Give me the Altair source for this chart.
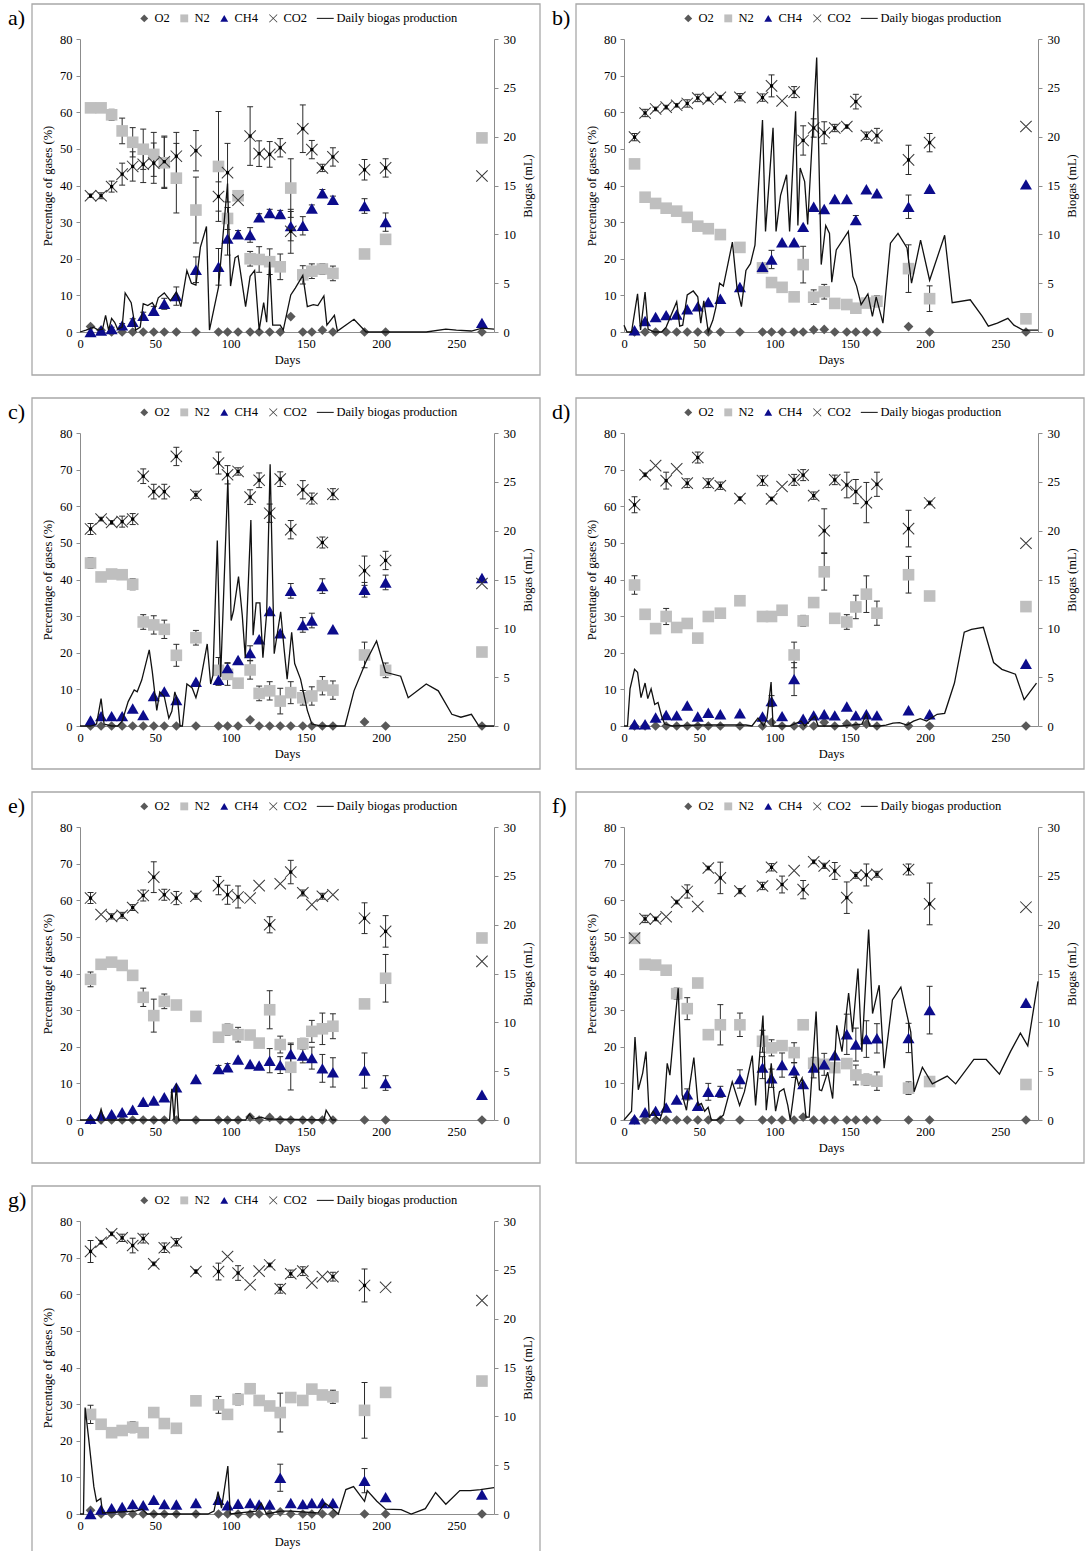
import altair as alt
import pandas as pd

# ---------------- data ----------------
DAYS = [7, 14, 21, 28, 35, 42, 49, 56, 64, 77, 92, 98, 105, 113, 119, 126, 133, 140, 148, 154, 161, 168, 189, 203, 267]
SERIES = ["O2", "N2", "CH4", "CO2", "Daily biogas production"]
PANEL_TAGS = ["a)", "b)", "c)", "d)", "e)", "f)", "g)"]
X_TICKS = [0, 50, 100, 150, 200, 250]
L_TICKS = [0, 10, 20, 30, 40, 50, 60, 70, 80]
R_TICKS = [0, 5, 10, 15, 20, 25, 30]

# panel a
A_O2 = [1.5, 0.5, 0, 0, 0, 0, 0, 0, 0, 0, 0, 0, 0, 0, 0, 0, 0, 4.2, 0, 0, 0.5, 0, 0, 0, 0]
A_N2 = [61.2, 61.2, 59.3, 54.9, 51.8, 49.9, 48.5, 46.2, 42.0, 33.3, 45.2, 31.0, 37.2, 20.0, 19.8, 19.2, 17.8, 39.3, 15.6, 16.6, 17.2, 16.0, 21.3, 25.3, 53.0]
A_N2_ERR = [0, 0, 1.5, 3.5, 4, 5.5, 6, 7, 9.5, 9, 15, 3, 1, 2, 3.5, 3.5, 3.5, 8, 2.5, 2, 1.5, 2, 0, 0, 0]
A_CH4 = [0.0, 0.4, 0.8, 1.8, 2.8, 4.4, 5.8, 7.7, 9.8, 17.0, 17.8, 25.5, 26.7, 26.5, 31.3, 32.5, 32.2, 28.9, 29.0, 33.7, 37.9, 36.1, 34.4, 30.0, 2.5]
A_CH4_ERR = [0, 0.3, 0.5, 0.5, 0.8, 1, 1.2, 1.5, 2.5, 3.5, 5, 4.5, 1, 2, 1, 1, 1, 4, 2.5, 1, 1, 1, 2, 2.5, 0]
A_CO2 = [37.2, 37.2, 39.7, 43.1, 45.2, 45.8, 46.1, 46.5, 48.0, 49.5, 37.0, 43.5, 36.0, 53.5, 48.7, 48.5, 50.3, 27.5, 55.5, 49.8, 44.8, 47.8, 44.3, 44.8, 42.6]
A_CO2_ERR = [0.5, 0.8, 1.5, 3, 4, 5, 5.5, 7, 6.5, 5.5, 4, 8, 0, 8, 3.5, 3.5, 2.5, 6, 6.5, 2.5, 1, 2.5, 2.8, 2.5, 0]
A_BIO_DAY = [0, 4, 9, 12, 15, 17, 19, 21, 23, 25, 28, 30, 34, 37, 40, 42, 45, 48, 50, 52, 56, 60, 64, 67, 71, 74, 77, 80, 84, 86, 92, 98, 100, 103, 105, 110, 113, 116, 119, 122, 124, 126, 128, 133, 135, 140, 143, 148, 151, 155, 158, 162, 164, 169, 171, 182, 190, 230, 243, 250, 260, 267, 275]
A_BIO_ML = [0, 0.2, 0.5, 0.2, 0.3, 1.7, 0.2, 1.4, 1.0, 0.3, 0.5, 4.0, 3.0, 0.2, 0.5, 2.9, 2.7, 3.0, 2.5, 3.5, 4.0, 3.2, 4.1, 2.6, 6.3, 5.0, 4.8, 8.7, 10.8, 0.2, 4.6, 15.2, 4.7, 7.6, 7.8, 2.6, 5.7, 6.3, 0.2, 3.0, 1.0, 7.2, 0.7, 0.7, 0.2, 3.8, 4.5, 5.8, 2.6, 2.8, 2.7, 3.7, 0.7, 1.7, 0.1, 1.3, 0, 0, 0.3, 0.2, 0.1, 0.4, 0.3]

# panel b
B_O2 = [0, 0, 0, 0, 0, 0, 0, 0, 0, 0, 0, 0, 0, 0, 0, 0.6, 0.7, 0, 0, 0, 0, 0, 1.5, 0, 0]
B_N2 = [45.9, 36.8, 35.1, 33.8, 33.0, 31.3, 28.9, 28.2, 26.6, 23.1, 17.5, 13.5, 12.2, 9.6, 18.4, 9.5, 11.0, 7.8, 7.5, 6.5, 7.9, 8.4, 17.3, 9.1, 3.6]
B_N2_ERR = [0, 0, 0, 0, 0, 0, 0, 0, 0, 0, 0, 0, 0, 0, 5, 2, 2, 0, 0, 0, 0, 1.5, 6.5, 3.5, 0]
B_CH4 = [0.5, 3.0, 4.1, 4.6, 4.8, 6.2, 7.0, 8.2, 9.1, 12.3, 17.8, 19.8, 24.5, 24.5, 28.7, 34.2, 33.6, 36.3, 36.3, 30.6, 39.0, 37.9, 34.2, 39.1, 40.3]
B_CH4_ERR = [0, 0, 0, 0, 0, 0, 0, 0, 0, 0, 1, 2.5, 0, 0, 0, 0, 0, 0, 0, 1.2, 0, 0, 3.2, 0, 0]
B_CO2 = [53.2, 59.8, 60.9, 61.4, 61.9, 62.4, 63.9, 63.6, 64.1, 64.1, 64.0, 67.2, 63.1, 65.5, 52.3, 55.7, 54.4, 55.7, 56.1, 62.9, 53.6, 53.6, 47.0, 51.7, 56.1]
B_CO2_ERR = [1, 1, 0.5, 0.5, 0.5, 1, 1, 0.5, 0.5, 1, 1, 3, 0, 1.5, 4, 2.5, 3, 1, 0.5, 2, 1, 2, 4, 2.5, 0]
B_BIO_DAY = [0, 2, 5, 9, 11, 14, 16, 20, 25, 28, 35, 37, 39, 42, 46, 49, 51, 53, 56, 59, 61, 63.5, 66, 72, 75, 78, 81, 84, 87, 92, 94, 99, 101, 104, 108, 110, 114, 115.5, 117, 120, 122, 128, 131, 134, 136.5, 138, 141, 149, 152, 154.5, 157.5, 162, 165, 167.5, 172, 177, 182, 188, 191, 197, 203, 213, 218, 230, 238, 242, 248, 255, 259, 265, 272, 275]
B_BIO_ML = [0.7, 0, 0, 3.9, 0.2, 4.1, 0.3, 0, 0, 0.5, 3.1, 0.6, 0.7, 3.8, 4.2, 3.6, 0.9, 3.2, 0, 1.2, 2.5, 5.0, 4.7, 9.2, 4.6, 2.6, 6.3, 7.0, 8.9, 21.7, 10.3, 20.9, 10.3, 14.0, 16.1, 10.3, 22.6, 10.9, 16.8, 15.4, 11.0, 28.1, 6.9, 10.9, 10.1, 5.1, 8.4, 10.3, 5.7, 4.7, 2.8, 3.9, 1.6, 3.6, 0.9, 9.1, 10.1, 8.6, 5.0, 9.4, 5.3, 9.9, 3.0, 3.3, 1.6, 0.6, 0.9, 1.4, 0.7, 0.2, 0.2, 0.2]

# panel c
C_O2 = [0, 0, 0, 0, 0, 0, 0, 0, 0, 0, 0, 0, 0, 1.7, 0, 0, 0, 0, 0, 0, 0, 0, 1.1, 0, 0]
C_N2 = [44.5, 40.7, 41.5, 41.3, 38.7, 28.4, 27.6, 26.4, 19.3, 24.1, 15.2, 14.1, 11.7, 15.3, 8.9, 9.6, 6.8, 9.1, 7.7, 8.2, 11.0, 9.8, 19.4, 15.2, 20.2]
C_N2_ERR = [1.5, 1, 1, 1, 1.5, 2, 2.5, 2.5, 3, 2, 3.5, 3, 0, 2.5, 2, 2.5, 3.5, 3, 2, 2.5, 2.5, 2.5, 3.5, 2, 0]
C_CH4 = [1.5, 2.7, 2.7, 2.7, 4.8, 3.0, 8.2, 9.4, 7.1, 12.1, 12.6, 15.8, 18.0, 19.9, 23.7, 31.4, 25.3, 36.9, 27.6, 28.8, 38.2, 26.4, 37.2, 39.2, 40.4]
C_CH4_ERR = [0, 0, 0, 0, 0, 0, 0, 0, 0, 0, 1.5, 1.5, 0, 2, 0, 0, 0, 2, 2, 2, 2, 0, 2, 2, 0]
C_CO2 = [53.8, 56.5, 55.6, 55.8, 56.5, 68.2, 64.0, 64.0, 73.6, 63.1, 71.8, 68.6, 69.5, 62.5, 67.1, 58.1, 67.4, 53.6, 64.5, 62.1, 50.1, 63.3, 42.4, 45.2, 38.9]
C_CO2_ERR = [1.5, 0.5, 0.5, 1.5, 1.5, 2, 2, 2, 2.5, 1, 3, 2.5, 1, 2, 2, 2.5, 2, 2.5, 2.5, 1.5, 1.5, 1.5, 4, 2.5, 0]
C_BIO_DAY = [0, 7, 11, 14, 16, 21, 25, 28, 32, 36, 38, 41, 46, 48, 51, 53, 56, 59, 61, 63, 65, 66.5, 68, 71, 74.5, 77, 80, 84.5, 86.8, 88.3, 91.2, 93.4, 98.2, 100.4, 102, 105.3, 107.8, 109.8, 113.5, 115, 117, 119.5, 121.5, 124, 126.3, 129, 133.3, 135.5, 137.6, 140.6, 142.6, 146.5, 151, 154, 160, 176, 182, 190, 197, 203, 213, 218, 230, 238, 247, 253, 260, 265, 275]
C_BIO_ML = [0, 0, 0.2, 2.8, 0.2, 0, 0, 0.5, 2.5, 3.7, 3.5, 4.7, 7.8, 5.6, 1.6, 3.5, 3.0, 0.8, 1.5, 3.5, 2.4, 0, 0, 4.3, 3.9, 2.9, 4.6, 8.4, 4.3, 5.2, 19.0, 5.0, 25.2, 10.8, 11.8, 15.3, 11.3, 7.0, 21.1, 9.3, 12.6, 12.6, 7.0, 11.6, 26.8, 7.4, 11.7, 8.0, 4.8, 9.6, 6.4, 4.8, 1.6, 0.2, 0, 0, 3.6, 6.6, 8.7, 5.5, 5.1, 2.9, 4.3, 3.6, 1.2, 0.9, 1.2, 0, 0]

# panel d
D_O2 = [0, 0, 0, 0, 0, 0, 0, 0, 0, 0, 0, 1.0, 0, 0, 0, 0, 1.0, 0, 0.6, 0, 0.5, 0, 0, 0, 0]
D_N2 = [38.5, 30.5, 26.6, 29.9, 26.9, 28.0, 24.0, 29.9, 30.8, 34.2, 29.9, 29.9, 31.6, 19.4, 28.7, 33.7, 42.1, 29.4, 28.4, 32.5, 36.0, 30.8, 41.3, 35.5, 32.6]
D_N2_ERR = [2.5, 0, 0, 2.2, 0, 0, 0, 0, 0, 0, 0, 1, 0, 3.5, 1.5, 0, 5, 0, 2, 3.2, 5, 3.3, 5, 0, 0]
D_CH4 = [0.5, 0.5, 2.3, 3.0, 2.9, 5.6, 2.6, 3.6, 3.2, 3.5, 2.6, 6.8, 2.7, 12.8, 2.0, 2.9, 3.2, 2.9, 5.3, 2.9, 3.2, 2.9, 4.3, 3.2, 17.0]
D_CH4_ERR = [0, 0, 0, 0, 0, 0, 0, 0, 0, 0, 0, 1.5, 0, 4.5, 0, 0, 0, 0, 0, 0, 0, 0, 0, 0, 0]
D_CO2 = [60.4, 68.6, 71.1, 67.0, 70.2, 66.3, 73.3, 66.3, 65.6, 62.1, 67.0, 62.0, 65.4, 67.2, 68.5, 62.9, 53.3, 67.2, 65.8, 64.0, 61.0, 66.0, 53.9, 60.9, 49.9]
D_CO2_ERR = [2.2, 0.5, 0, 2.3, 0, 1.2, 1.5, 1.2, 1, 0.5, 1.3, 0.5, 0, 1.5, 1.5, 1, 6, 1.3, 3.5, 3.3, 5.5, 3.3, 5, 0.5, 0]
D_BIO_DAY = [0, 2.3, 4, 7, 9, 11.3, 14, 15.8, 18, 20.4, 22.6, 25, 27, 32, 50, 70, 81, 85, 89, 92.8, 95, 97.7, 99, 110, 117.6, 120, 126.7, 129, 144, 158, 161, 163.3, 170, 174, 178.7, 183, 188, 192.3, 196.8, 201, 208, 213, 219.5, 226, 230.8, 238.7, 245.5, 251, 260, 265.8, 274]
D_BIO_ML = [0, 0, 3.8, 5.8, 5.5, 2.9, 4.4, 2.8, 3.8, 2.2, 2.4, 1.0, 0.2, 0, 0.1, 0.1, 0.1, 0, 0.8, 0, 0.8, 4.5, 0, 0, 0.5, 0, 1.0, 0, 0, 0.2, 1.2, 0, 0, 0.1, 0.3, 0.35, 0.1, 0.5, 0.75, 0.5, 1.2, 1.3, 4.4, 9.6, 9.9, 10.1, 6.5, 5.8, 5.3, 2.7, 4.4]

# panel e
E_O2 = [0, 0, 0, 0, 0, 0, 0, 0, 0, 0, 0, 0, 0, 0.8, 0, 0.7, 0, 0, 0, 0, 0, 0, 0, 0, 0]
E_N2 = [38.4, 42.5, 43.1, 42.2, 39.5, 33.5, 28.5, 32.4, 31.4, 28.3, 22.6, 24.7, 23.3, 23.2, 21.0, 30.1, 20.6, 14.4, 20.8, 24.2, 24.9, 25.6, 31.7, 38.7, 49.7]
E_N2_ERR = [2, 0, 0, 1, 0, 2.5, 4.5, 2, 1.2, 0, 0, 1.5, 2, 0, 0, 5.2, 2.3, 6.2, 1.5, 3, 4.3, 3.4, 0, 6.5, 0]
E_CH4 = [0.3, 1.2, 1.6, 2.1, 2.8, 5.0, 5.3, 6.2, 8.9, 11.2, 13.9, 14.4, 16.5, 15.3, 14.9, 16.2, 15.0, 18.0, 17.6, 16.9, 14.1, 13.0, 13.5, 10.1, 6.9]
E_CH4_ERR = [0, 0, 0, 0, 0, 0, 0, 0, 0, 0, 1, 1, 0, 0, 0, 3.3, 2.3, 3, 2, 3, 3.8, 4, 4.8, 2, 0]
E_CO2 = [60.6, 56.1, 55.6, 55.9, 58.0, 61.3, 66.3, 61.5, 60.6, 61.1, 64.0, 61.5, 60.9, 60.6, 64.0, 53.3, 64.5, 67.7, 62.0, 58.8, 61.1, 61.5, 55.1, 51.5, 43.3]
E_CO2_ERR = [1.5, 0, 0.7, 0.8, 0.8, 1.5, 4.2, 1.5, 1.8, 0.8, 2.5, 2.6, 3, 0, 0, 2.2, 0, 3.2, 0.8, 0, 0.8, 0, 4.2, 4.3, 0]
E_BIO_DAY = [0, 12, 14, 16, 59.5, 61, 62.5, 64, 65.5, 110, 112.5, 115, 120.5, 124, 162, 163.5, 167.5, 170]
E_BIO_ML = [0, 0, 1.1, 0, 0, 3.2, 0, 3.7, 0, 0, 0.6, 0.1, 0.3, 0.1, 0, 1.0, 0, 0]

# panel f
F_O2 = [0, 0, 0, 0, 0, 0, 0, 0, 0, 0, 0, 0, 0, 0, 0.8, 0, 0, 0, 0, 0, 0, 0, 0, 0, 0]
F_N2 = [49.6, 42.5, 42.3, 40.9, 34.5, 30.4, 37.4, 23.3, 26.0, 26.0, 21.5, 19.7, 20.3, 18.4, 26.0, 15.5, 15.2, 14.3, 15.4, 12.3, 11.0, 10.6, 8.7, 10.5, 9.7]
F_N2_ERR = [0, 0, 0, 0, 1.5, 3, 0, 0, 5.5, 3.2, 3, 2.2, 0, 2.7, 0, 0, 0, 0, 0, 2.7, 1.5, 2.5, 1.7, 1, 0]
F_CH4 = [0.2, 2.1, 2.5, 3.4, 5.6, 7.0, 3.9, 7.7, 7.7, 11.2, 14.3, 11.4, 15.0, 13.6, 9.8, 14.3, 15.2, 17.7, 23.4, 20.6, 22.1, 22.3, 22.4, 30.0, 32.0]
F_CH4_ERR = [0, 0, 0, 0, 0, 1.5, 0, 2.3, 1.5, 2.5, 3, 2.5, 3.3, 2, 0, 2.8, 3, 0, 5.5, 4.5, 5, 4, 4, 6.5, 0]
F_CO2 = [49.7, 54.9, 54.9, 55.5, 59.5, 62.4, 58.3, 68.8, 66.1, 62.5, 63.9, 69.0, 64.3, 68.1, 62.9, 70.5, 69.4, 68.0, 60.7, 66.8, 66.9, 67.1, 68.4, 59.0, 58.1]
F_CO2_ERR = [0, 1, 0.5, 0, 0.5, 1.8, 0, 0.5, 4.3, 0.7, 1, 1, 2.3, 0, 2.5, 0.5, 0.7, 2.3, 4.3, 0.8, 3, 0.8, 1.5, 5.7, 0]
F_BIO_DAY = [0, 5, 7.3, 9.5, 12.4, 14.6, 16.8, 19.4, 21.6, 23.8, 26.7, 28.7, 30.5, 33.1, 36, 38.6, 41.5, 43.7, 46.4, 49.2, 51.4, 53.6, 55.9, 58, 62, 66, 71.9, 76.8, 80, 85.2, 87.4, 92.3, 94.5, 97.8, 100.7, 103.3, 106.2, 108.8, 110.4, 112.1, 114.3, 116, 118.3, 120.9, 123, 127.6, 129.8, 131.3, 135.3, 138.6, 141.3, 144.8, 149.2, 151.8, 155.4, 158, 162.5, 165.1, 169.5, 172.8, 178.3, 183.9, 190.5, 192.7, 198.2, 204.8, 214.7, 220.3, 232.4, 240.6, 249.4, 256.7, 263.3, 268.2, 275]
F_BIO_ML = [0, 0.9, 8.5, 3.1, 4.8, 7.0, 0.3, 0.9, 0.3, 0, 1.4, 5.8, 4.6, 9.0, 13.5, 2.6, 1.0, 3.6, 6.4, 1.5, 1.7, 0.9, 1.3, 0, 0, 0.5, 3.9, 1.5, 2.9, 6.6, 1.5, 10.7, 1.0, 5.8, 0.9, 2.9, 3.2, 1.5, 0, 1.9, 4.6, 3.6, 4.3, 0.3, 0.3, 11.1, 3.1, 3.0, 4.9, 2.2, 9.7, 7.0, 13.0, 9.0, 15.5, 7.0, 19.5, 10.9, 13.8, 5.3, 12.3, 13.6, 9.0, 2.9, 5.4, 3.7, 4.5, 3.7, 6.2, 6.2, 4.7, 7.0, 8.9, 7.6, 14.2]

# panel g
G_O2 = [1.0, 0, 0, 0, 0, 0, 0, 0, 0, 0, 0, 0, 0, 0, 0, 0, 0.6, 0, 0, 0, 0, 0, 0, 0, 0]
G_N2 = [27.2, 24.5, 22.2, 22.8, 23.7, 22.2, 27.7, 24.7, 23.4, 30.9, 29.8, 27.2, 31.3, 34.2, 31.0, 29.5, 27.7, 31.8, 31.0, 34.1, 32.5, 32.0, 28.3, 33.2, 36.3]
G_N2_ERR = [2.5, 0, 0, 0, 1.5, 0, 0, 0, 0, 0, 2.3, 0, 1.5, 0, 0, 0, 5.3, 0, 0, 0, 0, 1.8, 7.6, 0, 0]
G_CH4 = [0.0, 1.2, 1.6, 1.9, 2.7, 2.4, 3.9, 2.7, 2.6, 3.0, 3.9, 2.4, 2.8, 3.0, 2.6, 2.6, 9.9, 3.0, 2.7, 3.0, 3.0, 3.0, 9.1, 4.6, 5.3]
G_CH4_ERR = [0, 0, 0, 0, 0, 0, 0, 0, 0, 0, 0, 0, 0, 0, 0, 0, 3.7, 0, 0, 0, 0, 0, 3.3, 0, 0]
G_CO2 = [71.7, 74.2, 76.5, 75.4, 73.3, 75.2, 68.3, 72.7, 74.2, 66.2, 66.2, 70.3, 65.8, 62.6, 66.3, 68.0, 61.5, 65.6, 66.3, 63.1, 64.8, 64.8, 62.4, 61.9, 58.3]
G_CO2_ERR = [3, 0.5, 0.5, 1, 2, 1.2, 0.5, 1.3, 1, 0.5, 2.3, 0, 2, 0, 0, 0.5, 1.2, 1, 1.2, 0, 0, 1.2, 4.5, 0, 0]
G_BIO_DAY = [0, 2.3, 3.4, 5.7, 9.2, 11, 13.8, 15, 36.7, 41.3, 44.7, 85, 89, 91.7, 94, 98.2, 99.8, 117, 120.4, 123.9, 133.5, 140, 158, 162.8, 167.4, 171.6, 176.6, 181.7, 189, 190.8, 197.2, 203, 213.3, 220, 229.4, 236.2, 243, 252.3, 259.2, 266, 275]
G_BIO_ML = [0, 0, 10.9, 7.8, 2.8, 1.3, 1.6, 0.1, 0.3, 0.5, 0, 0, 0.3, 2.3, 0.6, 4.9, 0, 0.3, 1.1, 0, 0.3, 0.3, 0.1, 1.1, 0.6, 0, 2.5, 2.8, 1.3, 2.4, 1.3, 0.5, 0.45, 0, 0.55, 2.2, 1.0, 2.4, 2.4, 2.5, 2.7]

# ---------------- style ----------------
FONT = "Liberation Serif"
FS = 12.5
W, H = 414, 293
AX_COLOR = "#8c8c8c"
ERR_COLOR = "#2b2b2b"
FRAME_COLOR = "#a8a8a8"
COLORS = ["#595959", "#bfbfbf", "#0c0c8c", "#3a3a3a", "#111111"]
X_PATH = ("M-0.936,-1.064L1.064,0.936L0.936,1.064L-1.064,-0.936Z"
          "M-1.064,0.936L0.936,-1.064L1.064,-0.936L-0.936,1.064Z")
LINE_PATH = "M-2.4,-0.13L1.9,-0.13L1.9,0.13L-2.4,0.13Z"
SHAPES = ["diamond", "square", "triangle-up", X_PATH, LINE_PATH]
SIZES = {"O2": 95, "N2": 135, "CH4": 145, "CO2": 130}

X_AX = alt.Axis(title="Days", values=X_TICKS, ticks=False, tickSize=0, labelPadding=5,
                titlePadding=4, labelFlush=False, grid=False)
L_AX = alt.Axis(title="Percentage of gases (%)", values=L_TICKS, tickSize=4, labelPadding=4,
                titlePadding=5, labelFlush=False, grid=False)
R_AX = alt.Axis(title="Biogas (mL)", orient="right", values=R_TICKS, tickSize=4, labelPadding=5,
                titlePadding=6, titleAngle=270, titleBaseline="top", labelFlush=False, grid=False)
LEG = alt.Legend(title=None, orient="none", legendX=58, legendY=-27, direction="horizontal",
                 columns=5, symbolSize=62, symbolStrokeWidth=0, symbolOpacity=1,
                 labelFont=FONT, labelFontSize=FS, labelColor="#000", columnPadding=8,
                 labelOffset=4)

ONE = pd.DataFrame({"k": [0]})


def make_panel(tag, o2, n2, n2e, ch4, ch4e, co2, co2e, bday, bml):
    recs = []
    zeros = [0] * len(DAYS)
    for gas, vals, errs in (("O2", o2, zeros), ("N2", n2, n2e), ("CH4", ch4, ch4e), ("CO2", co2, co2e)):
        for d, v, e in zip(DAYS, vals, errs):
            recs.append({"day": d, "gas": gas, "value": v, "err": e})
    gases = pd.DataFrame(recs)
    bio = pd.DataFrame({"day": bday, "ml": bml})

    x = alt.X("day:Q", scale=alt.Scale(domain=[0, 275], nice=False), axis=X_AX)
    ys = alt.Scale(domain=[0, 80], nice=False)
    col = alt.Color("gas:N", scale=alt.Scale(domain=SERIES, range=COLORS), legend=LEG)
    shp = alt.Shape("gas:N", scale=alt.Scale(domain=SERIES, range=SHAPES), legend=LEG)

    base = alt.Chart(gases)
    eb = base.transform_filter("datum.err > 0").transform_calculate(
        lo="datum.value - datum.err", hi="datum.value + datum.err")
    rules = eb.mark_rule(color=ERR_COLOR, strokeWidth=1).encode(
        x=x, y=alt.Y("lo:Q", scale=ys, axis=L_AX), y2="hi:Q")
    cap_lo = eb.mark_tick(orient="horizontal", size=6, thickness=1, color=ERR_COLOR, opacity=1).encode(
        x=x, y=alt.Y("lo:Q", scale=ys, axis=L_AX))
    cap_hi = eb.mark_tick(orient="horizontal", size=6, thickness=1, color=ERR_COLOR, opacity=1).encode(
        x=x, y=alt.Y("hi:Q", scale=ys, axis=L_AX))
    pts = [
        base.transform_filter(alt.datum.gas == g).mark_point(
            filled=True, opacity=1, size=SIZES[g], strokeWidth=0).encode(
            x=x, y=alt.Y("value:Q", scale=ys, axis=L_AX), color=col, shape=shp)
        for g in SERIES[:4]
    ]
    dots = base.transform_filter("datum.gas === 'CO2' && datum.err > 0").mark_square(
        size=10, color="#000", opacity=1).encode(x=x, y=alt.Y("value:Q", scale=ys, axis=L_AX))
    gas_layer = alt.layer(rules, cap_lo, cap_hi, *pts, dots)

    line = alt.Chart(bio).mark_line(color="#111111", strokeWidth=1.3).encode(
        x=x, y=alt.Y("ml:Q", scale=alt.Scale(domain=[0, 30], nice=False), axis=R_AX))

    frame = alt.Chart(ONE).mark_rect(fillOpacity=0, stroke=FRAME_COLOR, strokeWidth=1.3).encode(
        x=alt.value(-48), x2=alt.value(460), y=alt.value(-35), y2=alt.value(336))
    label = alt.Chart(ONE).mark_text(text=tag, align="left", baseline="middle", font=FONT,
                                     fontSize=22, color="#000").encode(
        x=alt.value(-72), y=alt.value(-21))

    return alt.layer(frame, label, gas_layer, line).resolve_scale(y="independent").properties(
        width=W, height=H)


panels = [
    make_panel(PANEL_TAGS[0], A_O2, A_N2, A_N2_ERR, A_CH4, A_CH4_ERR, A_CO2, A_CO2_ERR, A_BIO_DAY, A_BIO_ML),
    make_panel(PANEL_TAGS[1], B_O2, B_N2, B_N2_ERR, B_CH4, B_CH4_ERR, B_CO2, B_CO2_ERR, B_BIO_DAY, B_BIO_ML),
    make_panel(PANEL_TAGS[2], C_O2, C_N2, C_N2_ERR, C_CH4, C_CH4_ERR, C_CO2, C_CO2_ERR, C_BIO_DAY, C_BIO_ML),
    make_panel(PANEL_TAGS[3], D_O2, D_N2, D_N2_ERR, D_CH4, D_CH4_ERR, D_CO2, D_CO2_ERR, D_BIO_DAY, D_BIO_ML),
    make_panel(PANEL_TAGS[4], E_O2, E_N2, E_N2_ERR, E_CH4, E_CH4_ERR, E_CO2, E_CO2_ERR, E_BIO_DAY, E_BIO_ML),
    make_panel(PANEL_TAGS[5], F_O2, F_N2, F_N2_ERR, F_CH4, F_CH4_ERR, F_CO2, F_CO2_ERR, F_BIO_DAY, F_BIO_ML),
    make_panel(PANEL_TAGS[6], G_O2, G_N2, G_N2_ERR, G_CH4, G_CH4_ERR, G_CO2, G_CO2_ERR, G_BIO_DAY, G_BIO_ML),
]

chart = alt.concat(*panels, columns=2, spacing={"row": 21, "column": 11}).resolve_scale(
    x="independent", y="independent", color="independent", shape="independent"
).resolve_legend(color="independent", shape="independent").properties(
    padding={"left": 8, "top": 3, "right": 0, "bottom": 0}
).configure(font=FONT).configure_axis(
    labelFont=FONT, titleFont=FONT, labelFontSize=FS, titleFontSize=FS, titleFontWeight="normal",
    labelColor="#000", titleColor="#000", domainColor=AX_COLOR, tickColor=AX_COLOR, domainWidth=1,
    tickWidth=1, grid=False
).configure_view(strokeWidth=0)

chart.save("out.html", embed_options={"renderer": "svg", "actions": False})
